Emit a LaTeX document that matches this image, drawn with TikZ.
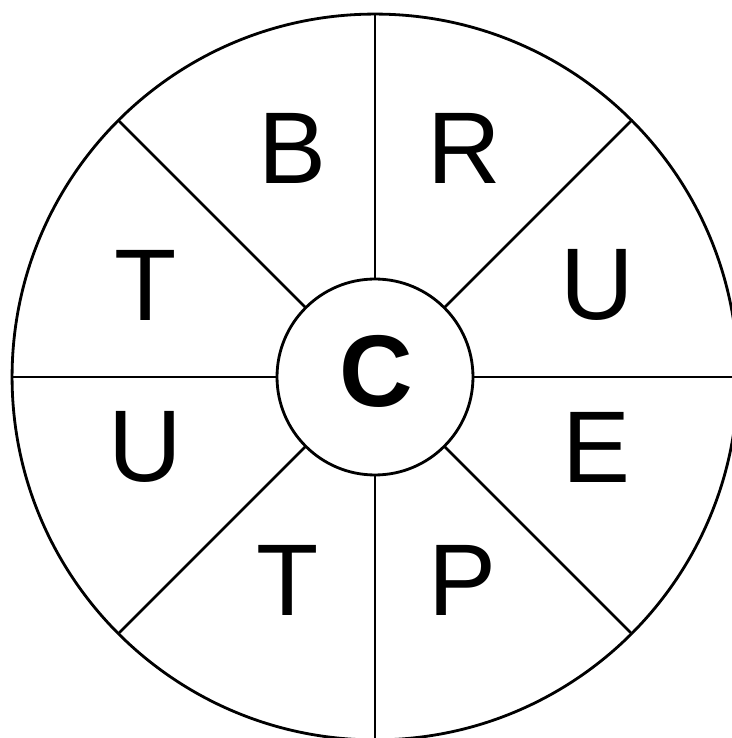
\documentclass[tikz,border=0pt]{standalone}
\usepackage{fontspec}
\setmainfont{Liberation Sans}
\begin{document}
\begin{tikzpicture}[x=0.02cm, y=0.02cm, letter/.style={font=\fontsize{58}{58}\selectfont, inner sep=0pt}, ring/.style={draw, circle, line width=1.6pt, inner sep=0pt, outer sep=0pt}]
\useasboundingbox (0,0) rectangle (732,738);
\node[ring, minimum size=14.52cm] (rim) at (375,361) {};
\node[ring, minimum size=3.92cm] (hub) at (375,361) {};
\node[letter, font=\fontsize{58}{58}\selectfont\bfseries] (centre) at (376,367) {C};
\foreach \a in {0,45,...,315}{\draw[line width=1.6pt] (hub.\a) -- (rim.\a);}
\foreach \x/\y/\lab/\n in {292/590/B/b, 464/590/R/r, 597/453/U/u1, 596/291/E/e, 462/158/P/p, 288/158/T/t1, 145/291/U/u2, 146/453/T/t2}{\node[letter] (\n) at (\x,\y) {\lab};}
\end{tikzpicture}
\end{document}
